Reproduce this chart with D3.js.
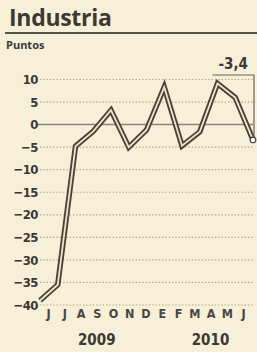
<!DOCTYPE html>
<html>
<head>
<meta charset="utf-8">
<script src="https://cdn.jsdelivr.net/npm/d3@7"></script>
<style>
  html, body { margin: 0; padding: 0; background: #f6f0d9; }
  svg { display: block; }
</style>
</head>
<body>
<svg id="chart"></svg>
<script>
// Industria, puntos (junio 2009 - junio 2010)
const months = ['J', 'J', 'A', 'S', 'O', 'N', 'D', 'E', 'F', 'M', 'A', 'M', 'J'];
const values = [-39, -35.5, -4.8, -1.5, 3.2, -5, -1.2, 8.3, -4.7, -1.6, 9.1, 6, -3.4];
const yTicks = [10, 5, 0, -5, -10, -15, -20, -25, -30, -35, -40];
const years = [{ label: '2009', from: 1, to: 5 }, { label: '2010', from: 9, to: 11 }];
const lastLabel = '-3,4';

const W = 257, H = 352;
const ink = '#3d3833';
const sans = '"Open Sans", sans-serif';
const cond = '"DejaVu Sans Condensed", "DejaVu Sans", sans-serif';

const svg = d3.select('#chart')
  .attr('width', W)
  .attr('height', H)
  .attr('font-family', sans);

svg.append('rect')
  .attr('width', W)
  .attr('height', H)
  .attr('fill', '#f6f0d9');

// titulo
svg.append('text')
  .attr('x', 9)
  .attr('y', 26)
  .attr('font-size', 23)
  .attr('font-weight', 700)
  .attr('fill', ink)
  .attr('letter-spacing', -0.3)
  .text('Industria');

svg.append('line')
  .attr('x1', 5).attr('x2', W)
  .attr('y1', 33).attr('y2', 33)
  .attr('stroke', '#55504a')
  .attr('stroke-width', 2);

svg.append('text')
  .attr('x', 6)
  .attr('y', 49)
  .attr('font-size', 11)
  .attr('font-weight', 700)
  .attr('fill', ink)
  .text('Puntos');

const idx = months.map((m, i) => i);

const x = d3.scalePoint()
  .domain(idx)
  .range([40, 253]);

const xLab = d3.scalePoint()
  .domain(idx)
  .range([48, 243]);

const y = d3.scaleLinear()
  .domain([-40, 10])
  .range([305, 79.5]);

// rejilla
svg.append('g')
  .selectAll('line')
  .data(yTicks.filter(d => d !== 0))
  .enter()
  .append('line')
  .attr('x1', 40).attr('x2', 253)
  .attr('y1', d => y(d)).attr('y2', d => y(d))
  .attr('stroke', '#b3a27c')
  .attr('stroke-width', 1.2)
  .attr('stroke-dasharray', '1.3,2');

svg.append('line')
  .attr('x1', 36).attr('x2', 253)
  .attr('y1', y(0)).attr('y2', y(0))
  .attr('stroke', '#8c8476')
  .attr('stroke-width', 1.5);

// eje y
const yAxis = svg.append('g')
  .attr('transform', 'translate(38,0)')
  .call(d3.axisLeft(y).tickValues(yTicks).tickSize(0).tickPadding(0));
yAxis.attr('font-family', cond).attr('font-size', 13);
yAxis.select('.domain').remove();
yAxis.selectAll('text')
  .attr('font-weight', 700)
  .attr('fill', ink)
  .attr('letter-spacing', -0.5);

// eje x
const xAxis = svg.append('g')
  .attr('transform', 'translate(0,309)')
  .call(d3.axisBottom(xLab).tickSize(0).tickPadding(0).tickFormat(i => months[i]));
xAxis.attr('font-family', cond).attr('font-size', 12.5);
xAxis.select('.domain').remove();
xAxis.selectAll('text')
  .attr('font-weight', 700)
  .attr('fill', '#4a4540');

svg.append('g')
  .selectAll('text')
  .data(years)
  .enter()
  .append('text')
  .attr('x', d => (xLab(d.from) + xLab(d.to)) / 2)
  .attr('y', 345)
  .attr('text-anchor', 'middle')
  .attr('font-family', cond)
  .attr('font-size', 15)
  .attr('font-weight', 700)
  .attr('fill', ink)
  .text(d => d.label);

// linea
const line = d3.line()
  .x((d, i) => x(i))
  .y(d => y(d));

svg.append('path')
  .datum(values)
  .attr('d', line)
  .attr('fill', 'none')
  .attr('stroke', '#4b4137')
  .attr('stroke-width', 5.5)
  .attr('stroke-linejoin', 'miter');

svg.append('path')
  .datum(values)
  .attr('d', line)
  .attr('fill', 'none')
  .attr('stroke', '#eee4cb')
  .attr('stroke-width', 1.8)
  .attr('stroke-linejoin', 'miter');

// ultimo dato
const last = values.length - 1;
const bx = x(last) + 1;
svg.append('path')
  .attr('d', `M${x(last - 2) - 5},75 H${bx} V${y(values[last]) - 3}`)
  .attr('fill', 'none')
  .attr('stroke', '#6a6358')
  .attr('stroke-width', 1.2);

svg.append('text')
  .attr('x', (x(last - 2) - 5 + bx) / 2)
  .attr('y', 69)
  .attr('text-anchor', 'middle')
  .attr('font-family', cond)
  .attr('font-size', 15)
  .attr('font-weight', 700)
  .attr('fill', ink)
  .text(lastLabel);

svg.append('circle')
  .attr('cx', x(last))
  .attr('cy', y(values[last]))
  .attr('r', 2.8)
  .attr('fill', '#ffffff')
  .attr('stroke', '#4b4137')
  .attr('stroke-width', 1.2);
</script>
</body>
</html>
